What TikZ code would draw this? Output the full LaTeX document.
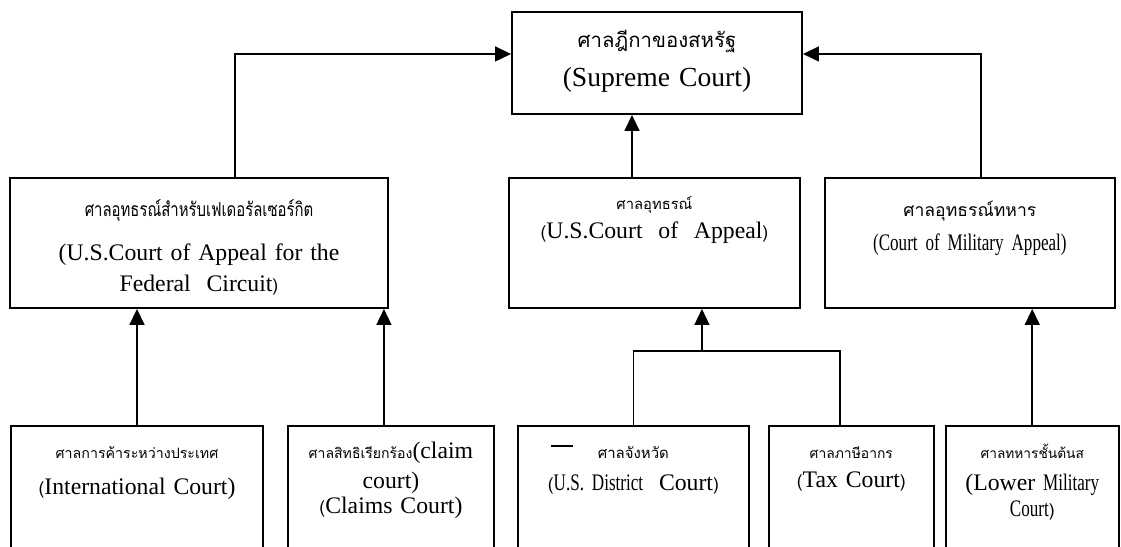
\documentclass[tikz,border=0pt]{standalone}
\usepackage{fontspec}
\setmainfont{Liberation Serif}
\newfontfamily\thaifont[Script=Thai]{Loma}
\newfontfamily\thainarrow[Script=Thai,FakeStretch=0.77]{Loma}
\newfontfamily\narrowfont[FakeStretch=0.72]{Liberation Serif}
\usetikzlibrary{arrows.meta,positioning}

\newcommand{\thaisize}[1]{\thaifont\fontsize{#1}{12}\selectfont}
\newcommand{\thopen}{{\thaifont\fontsize{10}{12}\selectfont(}}
\newcommand{\thclose}{{\thaifont\fontsize{10}{12}\selectfont)}}

\begin{document}
\begin{tikzpicture}[
    court/.style={rectangle, draw, line width=1.1pt, inner sep=0pt, align=center, font=\fontsize{13.5}{18}\selectfont},
    mid/.style={court, text height=0.78cm, text depth=1.82cm},
    low/.style={court, text height=0.66cm, text depth=1.94cm},
    link/.style={line width=0.9pt},
    arrow/.style={line width=0.9pt,->,>={Triangle[length=0.32cm,width=0.3cm]}}
]
\useasboundingbox (0,0) rectangle (22.42,-10.94);
\clip (0,0) rectangle (22.42,-10.94);

% Top level
\node[court, anchor=north, text width=5.8cm, text height=0.72cm, text depth=1.32cm, font=\fontsize{15.7}{22.2}\selectfont] (supreme) at (13.14,-0.22) {{\thaisize{11.6}ศาลฎีกาของสหรัฐ}\\(Supreme Court)};

% Appeal courts
\node[mid, anchor=north, text width=7.56cm] (federal) at (3.98,-3.54) {{\thainarrow\fontsize{11}{12}\selectfont ศาลอุทธรณ์สำหรับเฟเดอรัลเซอร์กิต}\\[6.6pt](U.S.Court of Appeal for the\\Federal~ Circuit\thclose};
\node[mid, right=2.38cm of federal, text width=5.82cm, text height=0.64cm, text depth=1.96cm] (appeal) {{\thaisize{8.4}ศาลอุทธรณ์}\\[-1.5pt]\thopen U.S.Court~ of~ Appeal\thclose};
\node[mid, right=0.46cm of appeal, text width=5.8cm] (military) {{\thaisize{10}ศาลอุทธรณ์ทหาร}\\[1.3pt]{\narrowfont (Court of Military Appeal)}};

% Trial courts
\node[low, anchor=north, text width=5.04cm] (intl) at (2.74,-8.5) {{\thaisize{8.1}ศาลการค้าระหว่างประเทศ}\\[2pt]\thopen International Court)};
\node[low, right=0.46cm of intl, text width=4.12cm] (claims) {{\thaisize{8}ศาลสิทธิเรียกร้อง}(claim\\[-1pt]court)\\[-4pt]\thopen Claims Court)};
\node[low, right=0.44cm of claims, text width=4.62cm] (district) {{\thaisize{8.5}ศาลจังหวัด}\\\thopen{\narrowfont U.S. District}~ Court\thclose};
\node[low, right=0.36cm of district, text width=3.3cm] (tax) {{\thaisize{7.9}ศาลภาษีอากร}\\[-2pt]\thopen Tax Court\thclose};
\node[low, right=0.2cm of tax, text width=3.46cm] (lower) {{\thaisize{7.8}ศาลทหารชั้นต้นส}\\(Lower {\narrowfont Military}\\[-3pt]{\narrowfont Court\thclose}};

% Arrows - appeal courts to Supreme Court
\coordinate (toappeal) at ([xshift=-0.5cm]supreme.south);
\draw[arrow] ([xshift=0.72cm]federal.north) |- ([yshift=0.18cm]supreme.west);
\draw[arrow] (toappeal |- appeal.north) -- (toappeal);
\draw[arrow] ([xshift=0.22cm]military.north) |- ([yshift=0.18cm]supreme.east);

% Arrows - trial courts to appeal courts
\coordinate (fromclaims) at ([xshift=-0.14cm]claims.north);
\coordinate (fromtax) at ([xshift=-0.23cm]tax.north);
\coordinate (join) at ([xshift=0.95cm,yshift=-0.84cm]appeal.south);
\draw[arrow] (intl.north) -- (intl.north |- federal.south);
\draw[arrow] (fromclaims) -- (fromclaims |- federal.south);
\draw[link] (district.north) |- (join) -| (fromtax);
\draw[arrow] (join) -- (join |- appeal.south);
\draw[arrow] (lower.north) -- (lower.north |- military.south);

% dash in the district box
\draw[line width=1.1pt] ([xshift=0.68cm,yshift=-0.42cm]district.north west) -- ++(0.44,0);
\end{tikzpicture}
\end{document}
